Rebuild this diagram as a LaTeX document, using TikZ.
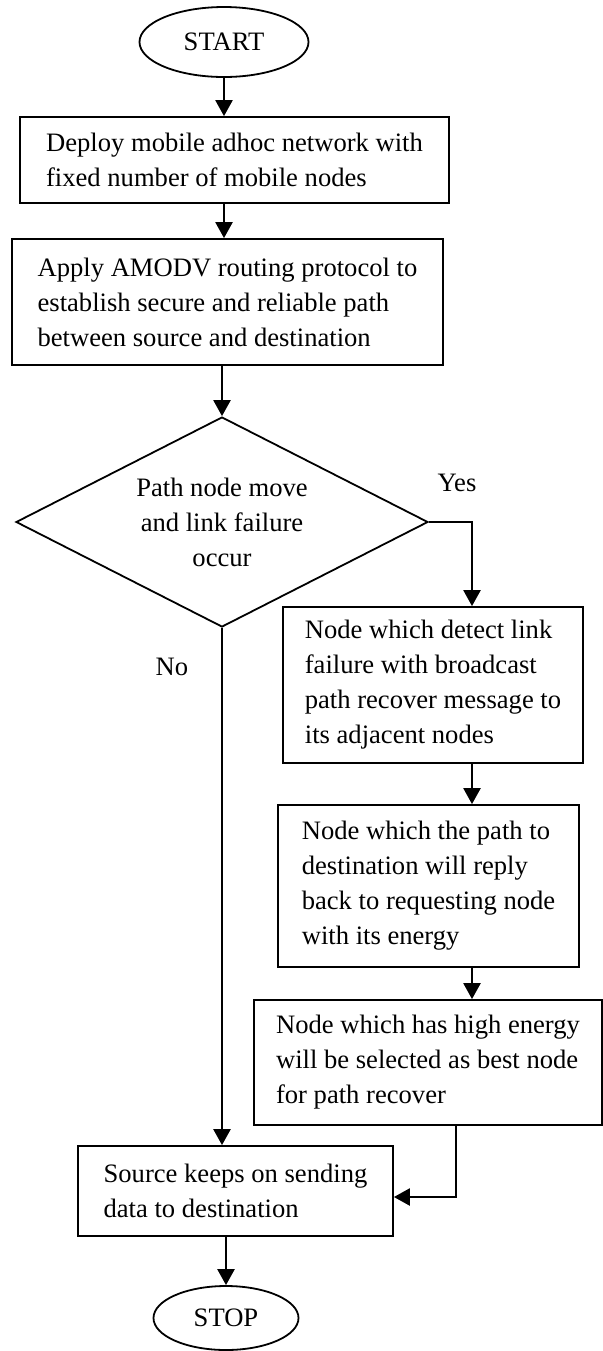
\documentclass[tikz,border=0pt]{standalone}
\usepackage{fontspec}
\setmainfont{Liberation Serif}
\usetikzlibrary{shapes.geometric,arrows.meta,calc}

\begin{document}
\begin{tikzpicture}[x=0.5pt, y=-0.5pt, font=\fontsize{13.3}{17.5}\selectfont,
    stepbox/.style={draw, line width=0.9pt, rectangle, align=left, inner sep=0pt},
    term/.style={draw, line width=0.9pt, ellipse, inner sep=0pt},
    cond/.style={draw, line width=0.9pt, diamond, align=center, inner sep=0pt, shape aspect=2},
    arr/.style={line width=1.2pt, -{Triangle[width=8.5pt,length=8pt]}}]
  \useasboundingbox (0,0) rectangle (603,1351);
  % main column
  \node[term, minimum width=84.5pt, minimum height=35pt] (start) at (224,42) {START};
  \node[stepbox, minimum width=214.5pt, minimum height=43pt] (deploy) at (234.5,160)
     {Deploy mobile adhoc network with\\ fixed number of mobile nodes};
  \node[stepbox, minimum width=215.5pt, minimum height=63pt] (apply) at (227.5,302)
     {Apply AMODV routing protocol to\\ establish secure and reliable path\\ between source and destination};
  \node[cond, minimum width=206pt, minimum height=105pt] (fail) at (222,522)
     {Path node move\\ and link failure\\ occur};
  % recovery branch
  \node[stepbox, minimum width=150pt, minimum height=78pt] (detect) at (433,685)
     {Node which detect link\\ failure with broadcast\\ path recover message to\\ its adjacent nodes};
  \node[stepbox, minimum width=150.5pt, minimum height=81pt] (reply) at (428.5,886)
     {Node which the path to\\ destination will reply\\ back to requesting node\\ with its energy};
  \node[stepbox, minimum width=174pt, minimum height=62.5pt] (select) at (428,1062.5)
     {Node which has high energy\\ will be selected as best node\\ for path recover};
  \node[stepbox, minimum width=157.5pt, minimum height=45pt] (send) at (235.5,1191)
     {Source keeps on sending\\ data to destination};
  \node[term, minimum width=72.5pt, minimum height=32pt] (stop) at (226,1318) {STOP};
  \node (yes) at (457,483) {Yes};
  \node (no) at (172,667) {No};
  \coordinate (yesx) at (472,522);
  \coordinate (backx) at (456,1197);

  \draw[arr] (start.south) -- (start.south |- deploy.north);
  \draw[arr] (deploy.south -| start) -- (apply.north -| start);
  \draw[arr] (apply.south -| fail) -- (fail.north);
  \draw[arr] (fail.east) -- (yesx) -- (yesx |- detect.north);
  \draw[arr] (detect.south -| yesx) -- (reply.north -| yesx);
  \draw[arr] (reply.south -| yesx) -- (select.north -| yesx);
  \draw[arr] (fail.south) -- (fail.south |- send.north);
  \draw[arr] (select.south -| backx) -- (backx) -- (send.east |- backx);
  \draw[arr] (send.south -| stop) -- (stop.north);
\end{tikzpicture}
\end{document}
